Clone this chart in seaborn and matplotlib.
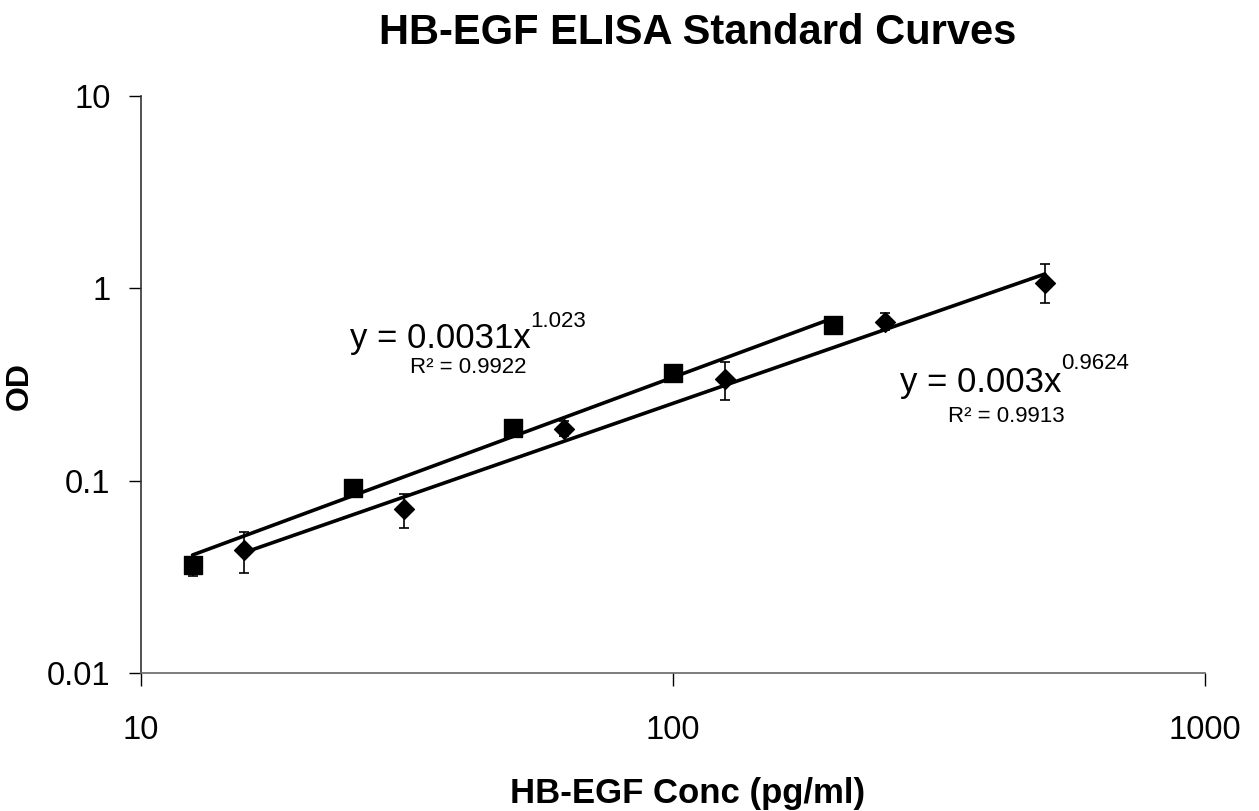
import matplotlib
matplotlib.use("Agg")
import matplotlib.pyplot as plt
import numpy as np
import pandas as pd
import seaborn as sns

# Standard series A (squares)
conc_a = [12.5, 25, 50, 100, 200]
od_a = [0.0364, 0.0916, 0.188, 0.363, 0.646]
od_a_lo = [0.0319, 0.0916, 0.188, 0.363, 0.646]
od_a_hi = [0.0364, 0.0916, 0.188, 0.363, 0.646]

# Standard series B (diamonds)
conc_b = [15.625, 31.25, 62.5, 125, 250, 500]
od_b = [0.0437, 0.0713, 0.186, 0.338, 0.669, 1.067]
od_b_lo = [0.0331, 0.0567, 0.170, 0.263, 0.608, 0.84]
od_b_hi = [0.0541, 0.0853, 0.205, 0.414, 0.745, 1.34]

# Power-law trendline coefficients: y = a * x^b, with R^2
fit_a = (0.0031, 1.023, 0.9922)
fit_b = (0.003, 0.9624, 0.9913)

x_ticks = [10, 100, 1000]
x_tick_labels = ["10", "100", "1000"]
y_ticks = [0.01, 0.1, 1, 10]
y_tick_labels = ["0.01", "0.1", "1", "10"]

sns.set_style("white")
plt.rcParams["font.family"] = ["Liberation Sans", "DejaVu Sans"]
plt.rcParams["text.color"] = "black"
plt.rcParams["axes.labelcolor"] = "black"
plt.rcParams["xtick.color"] = "black"
plt.rcParams["ytick.color"] = "black"

W, H = 1259, 811
fig = plt.figure(figsize=(W / 100, H / 100), dpi=100)
ax = fig.add_axes([141 / W, 1 - 673 / H, 1064 / W, 577 / H])


def fx(px):
    return px / W


def fy(py):
    return 1 - py / H


df_a = pd.DataFrame({"x": conc_a, "y": od_a})
df_b = pd.DataFrame({"x": conc_b, "y": od_b})

# trendlines
for conc, (a, b, _) in ((conc_a, fit_a), (conc_b, fit_b)):
    xs = np.geomspace(min(conc), max(conc), 50)
    sns.lineplot(x=xs, y=a * xs ** b, ax=ax, color="black", linewidth=2.6, zorder=2)

# error bars
for conc, od, lo, hi in ((conc_a, od_a, od_a_lo, od_a_hi), (conc_b, od_b, od_b_lo, od_b_hi)):
    od = np.array(od)
    ax.errorbar(conc, od, yerr=[od - np.array(lo), np.array(hi) - od],
                fmt="none", ecolor="black", elinewidth=1.2, capsize=3.5,
                capthick=1.2, zorder=3)

sns.scatterplot(data=df_a, x="x", y="y", ax=ax, marker="s", s=150, color="black",
                edgecolor="black", zorder=4)
sns.scatterplot(data=df_b, x="x", y="y", ax=ax, marker="D", s=105, color="black",
                edgecolor="black", zorder=4)

ax.set_xscale("log")
ax.set_yscale("log")
ax.set_xlim(10, 1000)
ax.set_ylim(0.01, 10)
ax.set_xticks(x_ticks)
ax.set_xticklabels(x_tick_labels)
ax.set_yticks(y_ticks)
ax.set_yticklabels(y_tick_labels)
ax.minorticks_off()
ax.tick_params(axis="both", which="major", direction="out", length=9, width=1,
               color="black", labelsize=23.5, labelcolor="black",
               bottom=True, left=True)
ax.tick_params(axis="x", pad=21)
ax.tick_params(axis="y", pad=13)

for side in ("top", "right"):
    ax.spines[side].set_visible(False)
ax.spines["left"].set_color("#333333")
ax.spines["bottom"].set_color("#666666")
for side in ("left", "bottom"):
    ax.spines[side].set_linewidth(1.2)

ax.set_xlabel("HB-EGF Conc (pg/ml)", fontsize=25, fontweight="bold", va="baseline")
ax.xaxis.set_label_coords((688 - 141) / 1064, (673 - 803) / 577)
ax.set_ylabel("OD", fontsize=23, fontweight="bold")
ax.yaxis.set_label_coords((35 - 141) / 1064, (673 - 386) / 577)

fig.text(fx(698), fy(44), "HB-EGF ELISA Standard Curves", fontsize=30,
         fontweight="bold", ha="center", va="baseline")

# equation annotations: main term, then a raised exponent right after it
renderer = fig.canvas.get_renderer()


def equation(left, base, sup_base, r2_left, r2_base, fit):
    a, b, r2 = fit
    main = fig.text(fx(left), fy(base), f"y = {a:g}x", fontsize=25,
                    ha="left", va="baseline")
    bb = main.get_window_extent(renderer)
    fig.text(fx(bb.x1), fy(sup_base), f"{b:g}", fontsize=16,
             ha="left", va="baseline")
    fig.text(fx(r2_left), fy(r2_base), f"R\u00b2 = {r2:.4f}", fontsize=16,
             ha="left", va="baseline")


equation(350, 348, 327, 410, 373, fit_a)
equation(900, 392, 369, 948, 422, fit_b)

fig.savefig("out.png", dpi=100, facecolor="white")
